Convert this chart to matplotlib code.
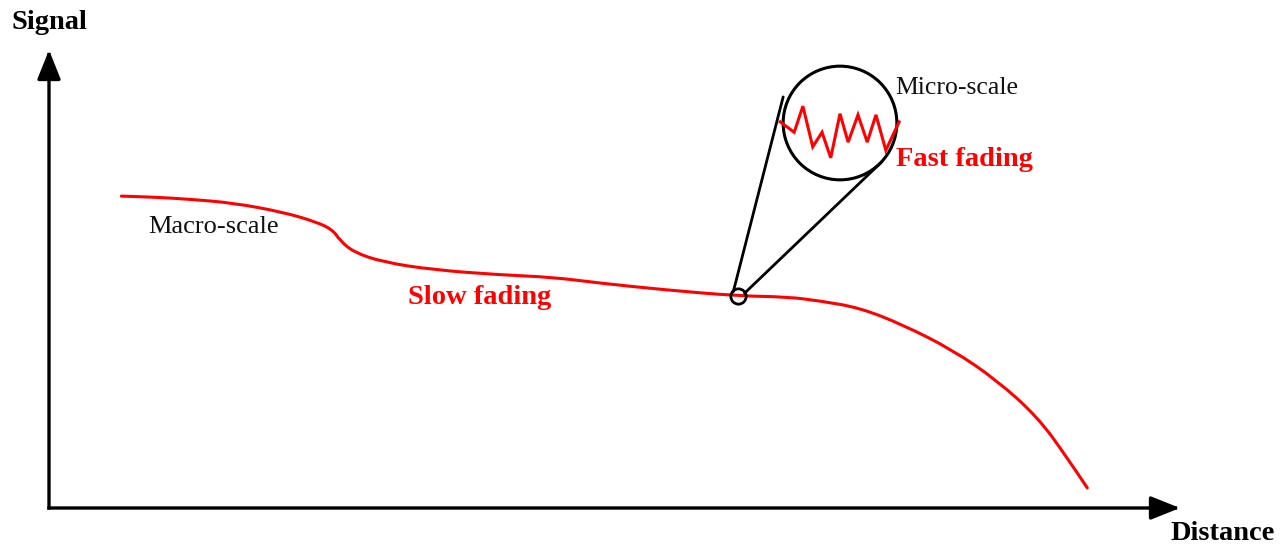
import matplotlib.pyplot as plt
from matplotlib.patches import Circle, ConnectionPatch, PathPatch
from matplotlib.path import Path

# slow fading (macro-scale) curve: distance vs signal, both in % of axis length
distance = [6.4, 9.2, 12.5, 16.3, 20.7, 23.7, 25.1, 25.7, 26.9, 29.5, 34.0, 39.9,
            44.5, 48.7, 54.6, 60.9, 65.3, 68.2, 71.7, 75.5, 79.9, 83.8, 87.4, 90.0, 91.8]
signal = [68.1, 67.9, 67.4, 66.6, 64.6, 62.4, 60.7, 58.5, 55.9, 53.7, 52.0, 50.9,
          50.4, 49.1, 47.6, 46.3, 46.1, 45.2, 43.7, 40.0, 34.5, 27.9, 19.9, 11.1, 4.4]

# zoomed point on the slow curve
zoom_d, zoom_s = 60.9, 46.3

# fast fading (micro-scale) zigzag inside the magnifier, unit-circle coords
fast_u = [-1.03, -0.79, -0.64, -0.47, -0.31, -0.16, 0.0, 0.14, 0.31, 0.47, 0.62, 0.79, 1.02]
fast_v = [0.02, -0.16, 0.29, -0.41, -0.16, -0.60, 0.16, -0.33, 0.14, -0.33, 0.14, -0.47, 0.02]

RED = "#ff0000"
plt.rcParams["font.family"] = ["Liberation Serif", "DejaVu Serif"]

W, H = 1287, 546
fig = plt.figure(figsize=(W / 100, H / 100), dpi=100)
ax = fig.add_axes([49 / W, (H - 508) / H, 1131 / W, 458 / H])
ax.set_xlim(0, 100)
ax.set_ylim(0, 100)
ax.axis("off")

# axes with arrow heads
arrow = dict(arrowstyle="-|>,head_length=0.9,head_width=0.36", color="black",
             lw=2.4, shrinkA=0, shrinkB=0, mutation_scale=20, capstyle="projecting")
ax.annotate("", xy=(1, 0), xytext=(0, 0), xycoords="axes fraction", arrowprops=arrow)
ax.annotate("", xy=(0, 1), xytext=(0, 0), xycoords="axes fraction", arrowprops=arrow)

ax.text(0, 1.061, "Signal", ha="center", va="center", fontsize=20.5,
        fontweight="bold", transform=ax.transAxes)
ax.text(1.038, -0.055, "Distance", ha="center", va="center", fontsize=20.5,
        fontweight="bold", transform=ax.transAxes)

# slow fading curve, smoothed with quadratic segments through the read points
pts = list(zip(distance, signal))
verts = [pts[0]]
codes = [Path.MOVETO]
for i in range(1, len(pts) - 1):
    mid = ((pts[i][0] + pts[i + 1][0]) / 2, (pts[i][1] + pts[i + 1][1]) / 2)
    if i == len(pts) - 2:
        mid = pts[-1]
    verts += [pts[i], mid]
    codes += [Path.CURVE3, Path.CURVE3]
ax.add_patch(PathPatch(Path(verts, codes), fill=False, ec=RED, lw=2.2,
                       capstyle="round", joinstyle="round"))
ax.plot([zoom_d], [zoom_s], marker="o", ms=11, mfc="none", mec="black", mew=2.0)

ax.text(8.75, 61.4, "Macro-scale", ha="left", va="center", fontsize=19, color="#111111")
ax.text(31.7, 45.9, "Slow fading", ha="left", va="center", fontsize=20.5,
        fontweight="bold", color=RED)
ax.text(74.8, 91.7, "Micro-scale", ha="left", va="center", fontsize=18.5, color="#111111")
ax.text(74.9, 76.0, "Fast fading", ha="left", va="center", fontsize=20.5,
        fontweight="bold", color=RED)

# magnifier
cx, cy, r = 840, 123, 58
ins = fig.add_axes([(cx - r) / W, (H - cy - r) / H, 2 * r / W, 2 * r / H])
ins.set_xlim(-1, 1)
ins.set_ylim(-1, 1)
ins.axis("off")
ins.add_patch(Circle((0, 0), 0.98, fill=False, ec="black", lw=2.2, clip_on=False))
ins.plot(fast_u, fast_v, color=RED, lw=2.2, clip_on=False, solid_joinstyle="miter")

for (d, s), (u, v) in [((60.5, 47.2), (-0.98, 0.45)), ((61.5, 46.9), (0.72, -0.67))]:
    con = ConnectionPatch(xyA=(d, s), coordsA=ax.transData, xyB=(u, v),
                          coordsB=ins.transData, color="black", lw=2.0)
    fig.add_artist(con)

fig.savefig("out.png", dpi=100)
